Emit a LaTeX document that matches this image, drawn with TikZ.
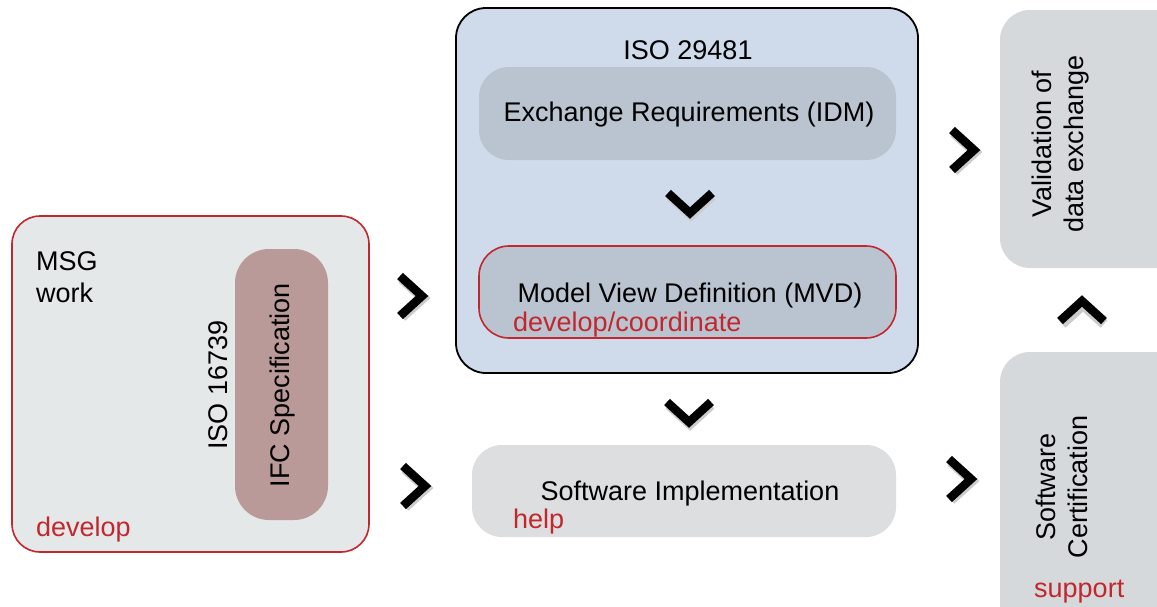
\documentclass[tikz,border=0pt]{standalone}
\usepackage{fontspec}
\setmainfont{Liberation Sans}
\definecolor{accent}{HTML}{C1272D}
\definecolor{panelgray}{HTML}{E5E8E9}
\definecolor{specfill}{HTML}{BA9A98}
\definecolor{isoblue}{HTML}{CFDAEB}
\definecolor{stepfill}{HTML}{BAC4D0}
\definecolor{implfill}{HTML}{DCDEE0}
\definecolor{sidefill}{HTML}{D6D9DC}
\begin{document}
\begin{tikzpicture}[x=1pt,y=-1pt,
  every node/.style={font=\fontsize{27}{32}\selectfont, inner sep=0pt},
  panel/.style={draw=accent, line width=1.6pt, fill=panelgray, rounded corners=28pt},
  spec/.style={fill=specfill, rounded corners=34pt},
  isobox/.style={draw=black, line width=1.8pt, fill=isoblue, rounded corners=30pt},
  stepbox/.style={fill=stepfill, rounded corners=30pt},
  implbox/.style={fill=implfill, rounded corners=30pt},
  sidebox/.style={fill=sidefill, rounded corners=30pt},
  note/.style={text=accent},
  chev/.style={line width=8.5pt, miter limit=10, line join=miter},
  chevshadow/.style={line width=10pt, draw=black!20, line join=miter}
]
\useasboundingbox (0,0) rectangle (1157,606);
\fill[white] (0,0) rectangle (1157,606);

% left panel: MSG work
\node[panel, minimum width=357pt, minimum height=336pt] (msg) at (190.5,384) {};
\node[anchor=base west, align=left] (msgtxt) at (36,302) {MSG\\work};
\node[spec, minimum width=93pt, minimum height=271pt] (ifc) at (281.5,384.5) {};
\node[rotate=90] (ifctxt) at (283,385) {IFC Specification};
\node[rotate=90] (iso16739) at (218,385) {ISO 16739};
\node[note, anchor=base west] (develop) at (36,536) {develop};

% ISO 29481 group
\node[isobox, minimum width=462pt, minimum height=365pt] (iso) at (687,190.5) {};
\node (isotitle) at (688,50) {ISO 29481};
\node[stepbox, minimum width=417pt, minimum height=93pt] (idm) at (687.5,113.5) {};
\node (idmtxt) at (689,115) {Exchange Requirements (IDM)};
\node[stepbox, draw=accent, line width=1.6pt, minimum width=417pt, minimum height=92pt] (mvd) at (687.5,292) {};
\node[anchor=base] (mvdtxt) at (690,302) {Model View Definition (MVD)};
\node[note, anchor=base west] (coord) at (513,331) {develop/coordinate};

% software implementation
\node[implbox, minimum width=424pt, minimum height=92pt] (impl) at (684,491) {};
\node[anchor=base] (impltxt) at (690,500) {Software Implementation};
\node[note, anchor=base west] (help) at (513,528) {help};

% right column
\node[sidebox, minimum width=190pt, minimum height=258pt] (valid) at (1095,139) {};
\node[rotate=90, align=center] (validtxt) at (1061,144) {Validation of\\data exchange};
\node[sidebox, minimum width=190pt, minimum height=290pt] (cert) at (1095,497) {};
\node[rotate=90, align=center] (certtxt) at (1062,487) {Software\\Certification};
\node[note, anchor=base west] (support) at (1034,597) {support};

% chevron anchors
\coordinate (c1) at (411,296);
\coordinate (c2) at (414,486);
\coordinate (c3) at (963,150);
\coordinate (c4) at (960,479);
\coordinate (d1) at (690,203);
\coordinate (d2) at (689,412);
\coordinate (u1) at (1082,311);

% right-pointing chevrons
\foreach \c in {c1,c2,c3,c4}{
  \draw[chevshadow] ([shift={(-10,-19)}]\c) ++(1,2) -- ++(21,19) -- ++(-21,19);
  \draw[chev] ([shift={(-11,-20)}]\c) -- ++(22,20) -- ++(-22,20);
}
% downward chevrons
\foreach \c in {d1,d2}{
  \draw[chevshadow] ([shift={(-21,-9)}]\c) ++(1,2) -- ++(21,19) -- ++(21,-19);
  \draw[chev] ([shift={(-22,-10)}]\c) -- ++(22,20) -- ++(22,-20);
}
% upward chevron
\draw[chevshadow] ([shift={(-21,11)}]u1) ++(1,2) -- ++(21,-19) -- ++(21,19);
\draw[chev] ([shift={(-22,10)}]u1) -- ++(22,-20) -- ++(22,20);
\end{tikzpicture}
\end{document}
